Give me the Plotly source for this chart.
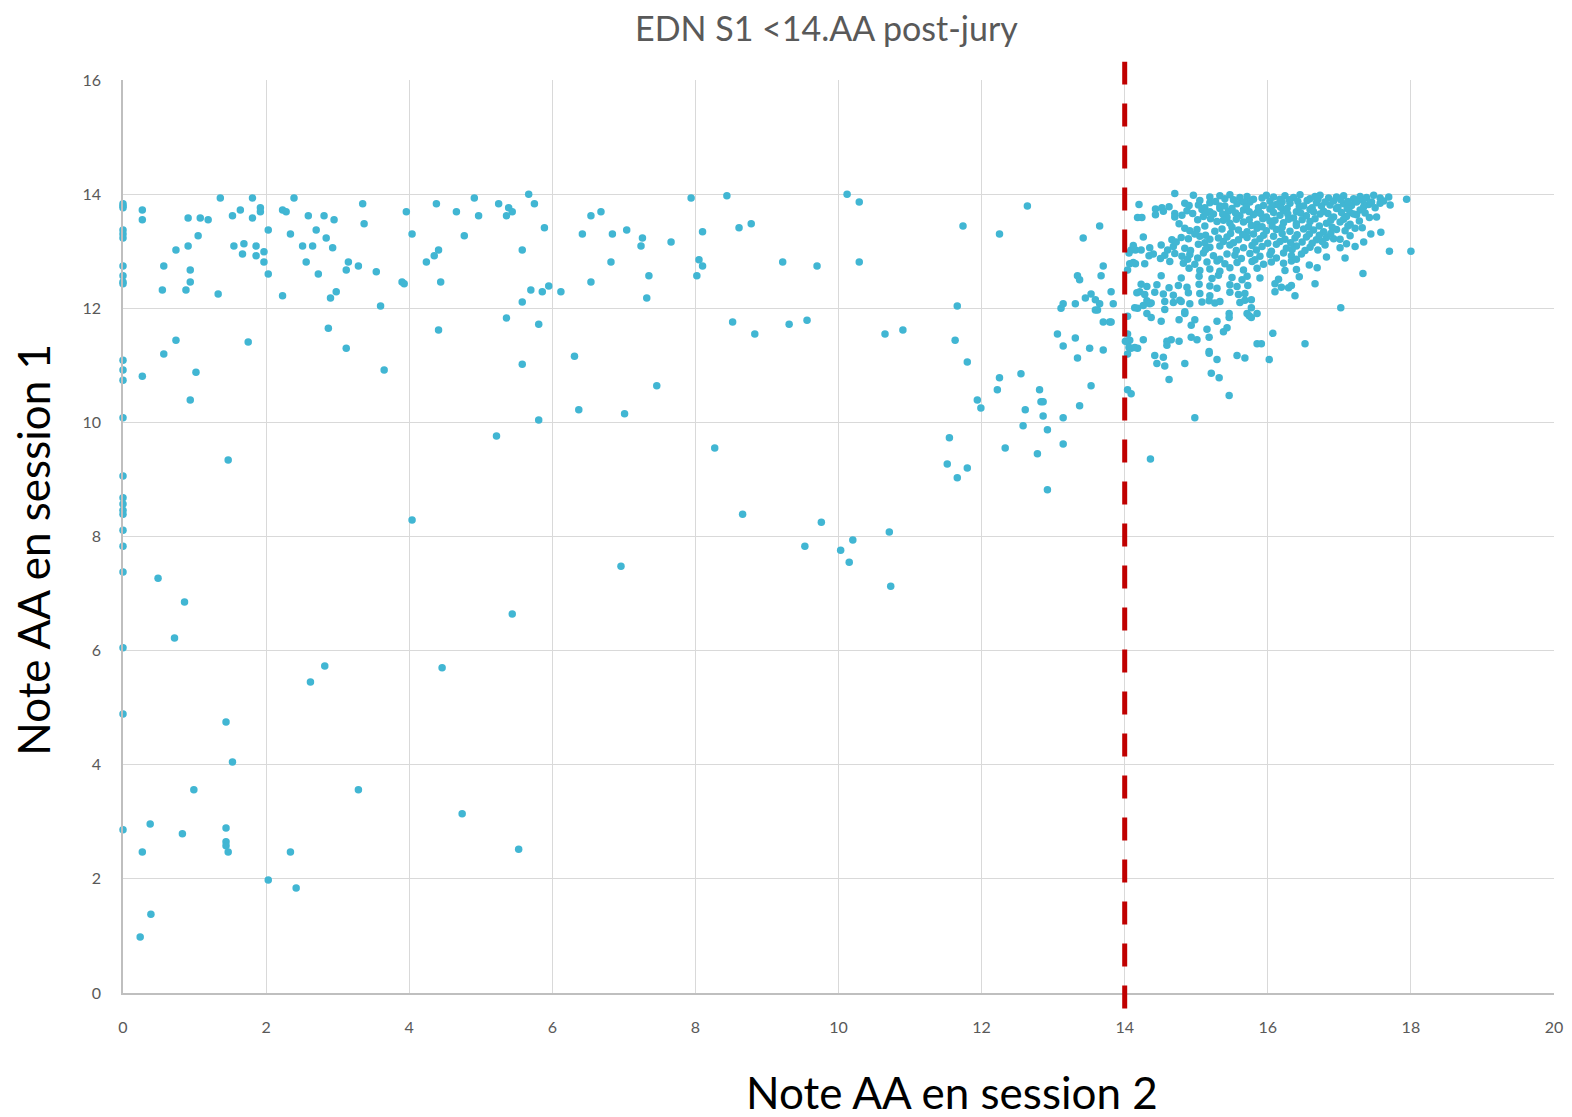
import plotly.graph_objects as go

# ---------------- data (x = Note AA session 2, y = Note AA session 1) ----------------
zero_col = [(0,13.83),(0,13.79),(0,13.76),(0,13.37),(0,13.30),(0,13.23),(0,12.74),(0,12.57),(0,12.46),(0,12.43),
            (0,11.09),(0,10.92),(0,10.74),(0,10.08),(0,9.06),(0,8.68),(0,8.57),(0,8.46),(0,8.39),(0,8.11),
            (0,7.83),(0,7.38),(0,6.05),(0,4.89),(0,2.86)]

low_left = [(1.47,9.34),(4.04,8.29),(0.49,7.27),(0.86,6.85),(0.72,6.22),(2.82,5.73),(2.62,5.45),(4.46,5.70),
            (1.44,4.75),(1.53,4.05),(0.99,3.56),(3.29,3.56),(4.74,3.14),(0.38,2.96),(0.83,2.79),(1.44,2.89),
            (1.44,2.65),(1.44,2.58),(1.47,2.47),(0.27,2.47),(2.34,2.47),(2.03,1.98),(2.42,1.84),(0.39,1.38),
            (0.24,0.98),(5.53,2.52),(5.44,6.64),(6.96,7.48)]

mid_low = [(5.22,9.76),(8.27,9.55),(8.66,8.39),(9.76,8.25),(9.53,7.83),(10.03,7.76),(10.20,7.94),(10.15,7.55),
           (10.71,8.08),(10.73,7.13),(11.55,9.73),(11.52,9.27)]

top_left = [(0.27,13.72),(0.27,13.55),(1.36,13.93),(1.81,13.93),(2.39,13.93),(0.91,13.58),(1.08,13.58),(1.19,13.55),
            (1.53,13.62),(1.64,13.72),(1.81,13.58),(1.92,13.76),(1.92,13.69),(2.23,13.72),(2.28,13.69),(2.59,13.62),
            (2.81,13.62),(2.95,13.55),(3.35,13.83),(3.37,13.48),(3.96,13.69),(4.38,13.83),(4.66,13.69),(4.91,13.93),
            (4.97,13.62),(1.05,13.27),(0.74,13.02),(0.91,13.09),(0.57,12.74),(0.94,12.67),(0.94,12.46),(0.55,12.32),
            (0.88,12.32),(1.33,12.25),(1.55,13.09),(1.69,13.13),(1.67,12.95),(1.86,13.09),(1.86,12.92),(1.97,12.99),
            (1.97,12.81),(2.03,13.37),(2.03,12.60),(2.34,13.30),(2.51,13.09),(2.65,13.09),(2.70,13.37),(2.84,13.23),
            (2.93,13.06),(2.56,12.81),(2.73,12.60),(3.12,12.67),(3.15,12.81),(3.29,12.74),(3.54,12.64),(3.90,12.46),
            (3.93,12.43),(4.04,13.30),(4.24,12.81),(4.35,12.92),(4.41,13.02),(4.44,12.46),(4.77,13.27),(2.23,12.22),
            (2.90,12.18),(2.98,12.29),(3.60,12.04),(0.74,11.44),(0.57,11.20),(0.27,10.81),(1.02,10.88),(0.94,10.39),
            (1.75,11.41),(2.87,11.65),(3.12,11.30),(3.65,10.92),(4.41,11.62)]

top_mid = [(5.25,13.83),(5.39,13.76),(5.44,13.69),(5.36,13.62),(5.67,14.00),(5.75,13.83),(5.89,13.41),(5.58,13.02),
           (5.70,12.32),(5.86,12.29),(5.95,12.39),(6.12,12.29),(5.58,12.11),(5.36,11.83),(5.81,11.72),(5.58,11.02),
           (6.31,11.16),(5.81,10.04),(6.37,10.22),(7.01,10.15),(7.46,10.64),(6.54,13.62),(6.68,13.69),(6.42,13.30),
           (6.84,13.30),(7.04,13.37),(7.26,13.23),(7.24,13.09),(7.66,13.16),(6.82,12.81),(7.35,12.57),(6.54,12.46),
           (7.32,12.18),(7.94,13.93),(8.44,13.97),(8.10,13.34),(8.05,12.85),(8.10,12.74),(8.02,12.57),(8.61,13.41),
           (8.78,13.48),(9.22,12.81),(9.70,12.74),(10.12,14.00),(8.52,11.76),(8.83,11.55),(9.31,11.72),(9.56,11.79)]

mid_right = [(10.29,13.86),(10.29,12.81),(12.64,13.79),(11.74,13.44),(12.25,13.30),(11.66,12.04),(10.65,11.55),
             (10.90,11.62),(11.63,11.44),(11.80,11.06),(12.25,10.78),(12.22,10.57),(12.55,10.85),(11.94,10.39),
             (11.99,10.25),(12.81,10.57),(12.83,10.36),(12.86,10.36),(12.61,10.22),(12.86,10.11),(13.14,10.08),
             (12.58,9.94),(12.92,9.87),(13.37,10.29),(13.53,10.64),(13.14,9.62),(12.33,9.55),(12.78,9.45),
             (11.80,9.20),(11.66,9.03),(12.92,8.82),(13.42,13.23),(13.65,13.44),(13.70,12.74),(13.67,12.57),
             (13.34,12.57),(13.37,12.50),(13.81,12.29),(13.53,12.25),(13.45,12.18),(13.59,12.15),(13.65,12.08),
             (13.84,12.08),(13.31,12.08),(13.14,12.08),(13.11,12.00),(13.59,11.97),(13.62,11.97),(13.70,11.76),
             (13.79,11.76),(13.81,11.76),(13.06,11.55),(13.31,11.48),(13.14,11.34),(13.51,11.30),(13.70,11.27),
             (13.34,11.13)]

near_line = [(14.04,12.67),(14.07,12.78),(14.15,12.78),(14.09,13.02),(14.15,13.02),(14.23,13.02),(14.21,12.29),
             (14.18,12.00),(14.04,11.86),(14.04,11.55),(14.07,11.44),(14.04,11.41),(14.09,11.30),(14.18,11.30),
             (14.04,11.20),(14.04,10.57),(14.09,10.50)]

row_a = [(14.70,14.01),(14.96,13.98),(15.19,13.95),(15.33,13.97),(15.40,13.92),(15.47,13.99),(15.61,13.94),
         (15.71,13.96),(15.92,13.93),(15.98,13.98),(16.08,13.95),(16.17,13.91),(16.24,13.97),(16.36,13.94),
         (16.45,13.99),(16.59,13.92),(16.66,13.96),(16.73,13.98),(16.85,13.93),(16.96,13.95),(17.06,13.97),
         (17.20,13.92),(17.29,13.96),(17.38,13.94),(17.48,13.98),(17.57,13.93),(17.69,13.95),(17.94,13.91)]
row_b = [(14.20,13.82),(14.84,13.84),(14.90,13.80),(15.03,13.81),(15.19,13.85),(15.33,13.79),(15.57,13.83),
         (15.75,13.86),(15.94,13.80),(16.12,13.82),(16.31,13.84),(16.50,13.79),(16.68,13.85),(16.87,13.81),
         (17.06,13.83),(17.17,13.80),(17.24,13.86),(17.41,13.82),(17.57,13.84),(17.71,13.81)]
row_c = [(14.43,13.74),(14.52,13.76),(14.54,13.70),(14.70,13.66),(14.87,13.71),(15.08,13.73),(15.19,13.69),
         (15.33,13.75),(15.45,13.70),(15.66,13.72),(15.85,13.68),(16.03,13.74),(16.22,13.71),(16.40,13.69),
         (16.59,13.73),(16.78,13.70),(16.96,13.75),(17.15,13.68),(17.29,13.72)]
row_d = [(14.18,13.59),(14.24,13.59),(14.43,13.64),(14.70,13.60),(14.80,13.63),(15.10,13.61),(15.24,13.65),
         (15.43,13.59),(15.61,13.62),(15.80,13.64),(15.98,13.60),(16.17,13.63),(16.36,13.58),(16.54,13.62),
         (16.73,13.65),(16.92,13.60),(17.10,13.61),(17.24,13.64),(17.42,13.59),(17.52,13.60)]
row_e = [(14.76,13.48),(15.29,13.52),(15.47,13.49),(15.66,13.51),(15.85,13.47),(16.03,13.53),(16.22,13.50),
         (16.40,13.48),(16.59,13.52),(16.82,13.49),(17.01,13.51),(17.15,13.47)]
row_f = [(14.84,13.40),(14.91,13.36),(15.01,13.38),(15.26,13.35),(15.36,13.39),(15.59,13.37),(15.71,13.34),
         (15.85,13.40),(15.98,13.36),(16.12,13.38),(16.31,13.35),(16.50,13.39),(16.64,13.37),(16.78,13.34),
         (16.96,13.38),(17.08,13.36),(17.22,13.40),(17.44,13.30),(17.58,13.33)]
row_g = [(14.26,13.25),(14.66,13.20),(14.79,13.24),(14.89,13.22),(15.05,13.26),(15.19,13.21),(15.31,13.23),
         (15.43,13.25),(15.59,13.20),(15.71,13.24),(15.89,13.22),(16.08,13.26),(16.24,13.21),(16.38,13.23),
         (16.54,13.25),(16.68,13.20),(16.82,13.24),(16.92,13.22),(17.01,13.21),(17.34,13.16)]
row_h = [(14.12,13.10),(14.35,13.06),(14.51,13.11),(14.68,13.08),(14.84,13.05),(15.03,13.12),(15.19,13.07),
         (15.33,13.09),(15.47,13.11),(15.66,13.06),(15.78,13.10),(15.92,13.08),(16.12,13.12),(16.26,13.05),
         (16.40,13.09),(16.59,13.07),(16.80,13.11),(17.01,13.06),(17.22,13.08),(17.70,13.00),(18.00,13.00)]
row_i = [(14.06,12.97),(14.34,12.92),(14.40,12.95),(14.56,12.93),(14.70,12.96),(14.80,12.91),(14.91,12.94),
         (15.10,12.97),(15.24,12.92),(15.43,12.95),(15.54,12.93),(15.75,12.96),(15.89,12.91),(16.03,12.94),
         (16.22,12.97),(16.33,12.92),(16.47,12.95),(16.82,12.90),(17.08,12.88)]
row_j = [(14.12,12.80),(14.28,12.78),(14.63,12.82),(14.82,12.79),(14.98,12.77),(15.15,12.81),(15.29,12.83),
         (15.40,12.78),(15.57,12.80),(15.78,12.82),(15.94,12.77),(16.05,12.81),(16.22,12.79),(16.33,12.83),
         (16.58,12.76),(16.69,12.71)]
row_k = [(14.90,12.70),(15.05,12.66),(15.19,12.69),(15.33,12.65),(15.47,12.71),(15.66,12.67),(15.85,12.70),
         (16.24,12.66),(16.40,12.68),(17.33,12.61)]
row_l = [(14.51,12.57),(14.79,12.53),(15.04,12.56),(15.22,12.52),(15.31,12.58),(15.50,12.54),(15.64,12.50),
         (15.71,12.56),(15.89,12.53),(16.15,12.51),(16.44,12.55),(16.66,12.43)]
row_m = [(14.23,12.42),(14.31,12.38),(14.45,12.41),(14.62,12.36),(14.75,12.40),(14.87,12.37),(15.04,12.42),
         (15.19,12.39),(15.29,12.35),(15.47,12.41),(15.57,12.38),(15.72,12.40),(16.10,12.43),(16.19,12.37),
         (16.29,12.36),(16.33,12.40)]
row_n = [(14.17,12.27),(14.28,12.24),(14.42,12.28),(14.54,12.25),(14.68,12.23),(14.89,12.27),(15.05,12.26),
         (15.19,12.22),(15.47,12.28),(15.59,12.24),(15.68,12.26),(16.10,12.29),(16.38,12.22)]
row_o = [(14.31,12.13),(14.37,12.09),(14.56,12.12),(14.68,12.10),(14.77,12.14),(14.91,12.08),(15.08,12.11),
         (15.18,12.13),(15.26,12.09),(15.33,12.12),(15.61,12.10),(15.68,12.14),(15.77,12.15),(14.14,12.01),
         (14.26,12.05),(14.35,12.08),(14.56,11.98),(14.79,12.12)]
row_p = [(15.05,13.89),(15.27,13.87),(15.52,13.90),(15.66,13.86),(15.80,13.91),(16.03,13.88),(16.20,13.86),
         (16.30,13.90),(16.42,13.87),(16.55,13.89),(16.70,13.91),(16.80,13.86),(16.92,13.88),(17.02,13.90),
         (17.12,13.87),(17.33,13.89),(17.45,13.86),(17.62,13.88)]
row_q = [(14.62,13.78),(15.12,13.76),(15.40,13.79),(15.50,13.75),(15.70,13.78),(15.87,13.76),(16.06,13.79),
         (16.18,13.77),(16.27,13.75),(16.44,13.78),(16.62,13.76),(16.75,13.79),(16.98,13.77),(17.11,13.75),
         (17.34,13.78),(17.50,13.76)]
row_r = [(14.95,13.66),(15.15,13.68),(15.37,13.65),(15.55,13.67),(15.74,13.69),(15.90,13.66),(16.08,13.68),
         (16.28,13.65),(16.46,13.67),(16.64,13.69),(16.84,13.66),(17.03,13.68),(17.20,13.65),(17.36,13.67)]
row_s = [(15.02,13.55),(15.20,13.57),(15.38,13.54),(15.56,13.56),(15.74,13.55),(15.93,13.57),(16.10,13.54),
         (16.29,13.56),(16.48,13.55),(16.66,13.57),(16.88,13.54),(17.06,13.56),(17.28,13.53)]
row_t = [(15.12,13.44),(15.50,13.42),(15.77,13.45),(15.92,13.43),(16.06,13.44),(16.20,13.42),(16.40,13.45),
         (16.57,13.43),(16.72,13.44),(16.90,13.42),(17.12,13.44),(17.32,13.41)]
row_u = [(14.98,13.30),(15.13,13.28),(15.48,13.31),(15.65,13.29),(15.80,13.30),(15.94,13.28),(16.20,13.31),
         (16.41,13.29),(16.58,13.30),(16.72,13.28),(16.88,13.31),(17.15,13.27)]
row_v = [(14.72,13.16),(15.12,13.15),(15.38,13.17),(15.52,13.15),(15.82,13.16),(16.00,13.14),(16.17,13.17),
         (16.32,13.15),(16.48,13.16),(16.62,13.14),(16.76,13.17),(17.10,13.13)]
row_w = [(14.60,13.02),(14.92,13.01),(15.13,13.03),(15.56,13.01),(15.84,13.02),(16.05,13.00),(16.34,13.03),
         (16.52,13.01),(16.70,13.02)]
row_x = [(14.50,12.87),(14.88,12.86),(15.02,12.88),(15.33,12.86),(15.63,12.87),(15.82,12.85),(16.12,12.88),
         (16.40,12.86)]
cluster_low = [(14.31,11.91),(14.37,11.84),(14.51,11.77),(14.76,11.80),(14.84,11.94),(14.84,11.91),(14.98,11.80),
               (14.93,11.70),(15.29,11.77),(15.46,11.91),(15.46,11.84),(15.43,11.66),(15.38,11.59),(15.71,11.91),
               (15.74,11.87),(15.77,11.84),(15.85,11.91),(15.77,12.01),(15.15,11.63),(15.18,11.49),(14.93,11.49),
               (15.01,11.45),(14.26,11.45),(14.65,11.45),(14.59,11.42),(14.59,11.35),(14.76,11.42),(14.01,11.42),
               (14.06,11.31),(14.14,11.31),(14.42,11.17),(14.45,11.03),(14.54,11.14),(14.56,10.99),(14.84,11.03),
               (15.18,11.24),(15.18,11.21),(15.29,11.10),(15.57,11.17),(15.68,11.13),(15.85,11.38),(15.91,11.38),
               (16.07,11.56),(16.02,11.10),(16.52,11.38),(15.21,10.86),(15.32,10.78),(14.62,10.75),(15.46,10.47),
               (17.02,12.01),(14.36,9.36),(14.98,10.08)]

threshold = 14

x_ticks = [0, 2, 4, 6, 8, 10, 12, 14, 16, 18, 20]
y_ticks = [0, 2, 4, 6, 8, 10, 12, 14, 16]

groups = [zero_col, low_left, mid_low, top_left, top_mid, mid_right, near_line,
          row_a, row_b, row_c, row_d, row_e, row_f, row_g, row_h, row_i, row_j,
          row_k, row_l, row_m, row_n, row_o, row_p, row_q, row_r, row_s, row_t,
          row_u, row_v, row_w, row_x, cluster_low]
xs = [p[0] for g in groups for p in g]
ys = [p[1] for g in groups for p in g]

# ---------------- figure ----------------
fig = go.Figure()
fig.add_trace(go.Scatter(
    x=xs, y=ys, mode="markers",
    marker=dict(size=7.5, color="#41B6D3", line=dict(width=0)),
    showlegend=False, cliponaxis=False,
))

fig.add_shape(type="line", xref="x", yref="paper",
              x0=threshold, x1=threshold, y0=-0.017, y1=1.02,
              line=dict(color="#C00000", width=5, dash="23px,19px"))

font_family = "Lato, 'Open Sans', sans-serif"
tick_font = dict(family=font_family, size=16, color="#595959")

fig.update_xaxes(range=[0, 20], tickvals=x_ticks, ticktext=[str(v) for v in x_ticks],
                 showgrid=True, gridcolor="#D9D9D9", gridwidth=1.3,
                 showline=True, linecolor="#BFBFBF", linewidth=1.5, zeroline=False,
                 ticks="outside", ticklen=19, tickcolor="rgba(0,0,0,0)",
                 tickfont=tick_font, fixedrange=True, automargin=False)
fig.update_yaxes(range=[0, 16], tickvals=y_ticks, ticktext=[str(v) for v in y_ticks],
                 showgrid=True, gridcolor="#D9D9D9", gridwidth=1.3,
                 showline=True, linecolor="#BFBFBF", linewidth=1.5, zeroline=False,
                 ticks="outside", ticklen=17, tickcolor="rgba(0,0,0,0)",
                 tickfont=tick_font, fixedrange=True, automargin=False)

fig.update_layout(
    width=1556, height=1101,
    margin=dict(l=115, r=10, t=72, b=116, autoexpand=False),
    paper_bgcolor="white", plot_bgcolor="white",
    title=dict(text="EDN S1 <14.AA post-jury", x=0.526, xanchor="center",
               y=0.981, yanchor="middle", yref="container",
               font=dict(family=font_family, size=34, color="#595959")),
    annotations=[
        dict(text="Note AA en session 2", xref="paper", yref="paper", x=0.579, y=-0.108,
             xanchor="center", yanchor="middle", showarrow=False,
             font=dict(family=font_family, size=44, color="#000000")),
        dict(text="Note AA en session 1", xref="paper", yref="paper", x=-0.0625, y=0.485,
             xanchor="center", yanchor="middle", showarrow=False, textangle=-90,
             font=dict(family=font_family, size=44, color="#000000")),
    ],
)

fig.write_html("out.html")
